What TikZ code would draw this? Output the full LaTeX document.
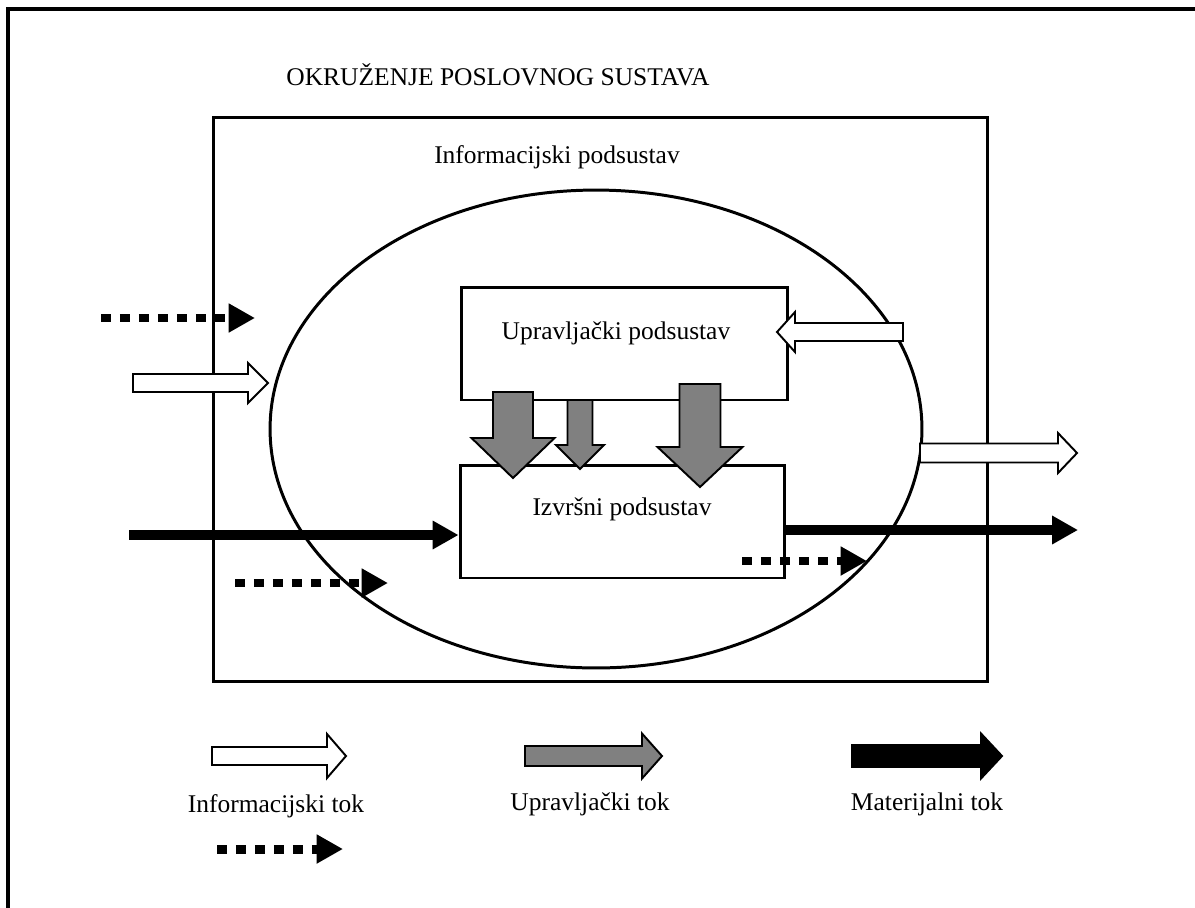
\documentclass[tikz,border=0pt]{standalone}
\usepackage{fontspec}
\setmainfont{Liberation Serif}
\usepackage{tikz}
\usetikzlibrary{positioning,arrows.meta,shapes.geometric}
\definecolor{ctrlgray}{RGB}{128,128,128}

\tikzset{
  lbl/.style={font=\fontsize{14.5}{17}\selectfont, inner sep=0pt},
  flowbox/.style={draw, line width=1.7pt, minimum width=6.54cm, minimum height=2.26cm, inner sep=0pt},
  infoflow/.style={draw, line width=1.1pt, fill=white},
  ctrlflow/.style={draw, line width=1.1pt, fill=ctrlgray},
  matflow/.style={draw, line width=1.1pt, fill=black},
  matline/.style={line width=5.7pt, -{Triangle[length=14.7pt,width=15.3pt]}},
  dotline/.style={line width=5.1pt, dash pattern=on 5.7pt off 5.1pt, -{Triangle[length=15pt,width=15.6pt]}}
}

% block arrow: style, start, angle, length, shaft, head, head length
\newcommand{\blockarrow}[7]{%
  \begin{scope}[shift={#2}, rotate=#3]
    \draw[#1] (0,-#5/2) -- (#4-#7,-#5/2) -- (#4-#7,-#6/2) -- (#4,0)
      -- (#4-#7,#6/2) -- (#4-#7,#5/2) -- (0,#5/2) -- cycle;
  \end{scope}}

\begin{document}
\begin{tikzpicture}[x=0.02cm, y=-0.02cm]
  \useasboundingbox (0,0) rectangle (1195,907);

  % environment frame
  \draw[line width=2.3pt] (8,9) rectangle (1230,940);
  \node[lbl] (okr) at (498,75) {OKRUŽENJE POSLOVNOG SUSTAVA};

  % business system
  \node[draw, line width=1.7pt, minimum width=15.5cm, minimum height=11.3cm, inner sep=0pt] (sustav) at (600.5,399.5) {};
  \node[lbl] (infotxt) at (557,157) {Informacijski podsustav};
  \node[draw, ellipse, line width=1.7pt, minimum width=13.04cm, minimum height=9.56cm, inner sep=0pt] (info) at (596,429) {};

  % subsystems
  \node[flowbox] (upr) at (624.5,343.5) {};
  \node[lbl] (uprtxt) at (616,333) {Upravljački podsustav};
  \node[flowbox, minimum width=6.5cm] (izv) at (622.5,521.5) {};
  \node[lbl] (izvtxt) at (622,509) {Izvršni podsustav};

  % control flows
  \blockarrow{ctrlflow}{(513,392)}{-90}{86}{40}{83}{40}
  \blockarrow{ctrlflow}{(580,400)}{-90}{69}{25}{48}{24}
  \blockarrow{ctrlflow}{(700,384)}{-90}{103}{41}{85}{40}

  % information flows
  \blockarrow{infoflow}{(133,383)}{0}{135}{18}{40}{20}
  \blockarrow{infoflow}{(903,332)}{180}{126}{18}{40}{18}
  \blockarrow{infoflow}{(920,453)}{0}{157}{19}{40}{19}

  % material flows
  \coordinate (matin) at (129,535);
  \coordinate (matout) at (1078,530);
  \draw[matline] (matin) -- (matin -| izv.west);
  \draw[matline] (matout -| izv.east) -- (matout);

  % dotted flows
  \coordinate (dota) at (101,318);
  \coordinate (dotb) at (235,583);
  \coordinate (dotc) at (742,561);
  \draw[dotline] (dota) -- ++(154,0);
  \draw[dotline] (dotb) -- ++(153,0);
  \draw[dotline] (dotc) -- ++(125,0);

  % legend
  \blockarrow{infoflow}{(212,756)}{0}{134}{18}{44}{19}
  \blockarrow{ctrlflow}{(525,756)}{0}{137}{20}{45}{20}
  \blockarrow{matflow}{(852,756)}{0}{150}{22}{45}{21}
  \node[lbl] (leginfo) at (276,806) {Informacijski tok};
  \node[lbl] (legctrl) at (590,804) {Upravljački tok};
  \node[lbl] (legmat) at (927,804) {Materijalni tok};
  \coordinate (legdot) at (217,849);
  \draw[dotline] (legdot) -- ++(126,0);
\end{tikzpicture}
\end{document}
